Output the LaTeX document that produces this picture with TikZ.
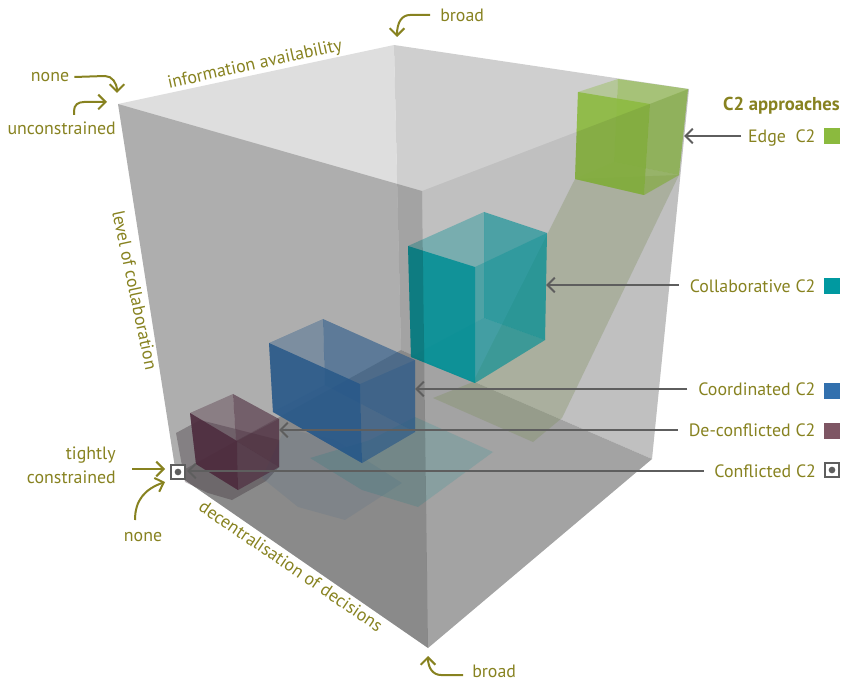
\documentclass[tikz,border=0pt]{standalone}
\usepackage{fontspec}
\setmainfont{PT Sans}
\usepackage{tikz}
\usetikzlibrary{arrows.meta, positioning}
\definecolor{olivetext}{RGB}{135,130,32}
\definecolor{pointergray}{RGB}{94,94,94}
\definecolor{edgegreen}{RGB}{139,186,62}
\definecolor{collabteal}{RGB}{0,153,160}
\definecolor{coordblue}{RGB}{50,112,174}
\definecolor{deconfmaroon}{RGB}{126,86,100}
\definecolor{cubemaroon}{RGB}{98,54,78}
\definecolor{shademaroon}{RGB}{70,55,65}
\definecolor{shadegreen}{RGB}{130,150,90}
\tikzstyle{caption} = [text=olivetext, font=\fontsize{13.4}{16}\selectfont, inner sep=0pt]
\tikzstyle{keylabel} = [caption, text height=1ex, text depth=0.2ex]
\tikzstyle{keybox} = [rectangle, minimum size=12pt, inner sep=0pt]
\tikzstyle{pointer} = [-{Straight Barb[length=5.5pt,width=11pt]}, draw=pointergray, line width=1.5pt]
\tikzstyle{guide} = [-{Straight Barb[length=5.5pt,width=11pt]}, draw=olivetext, line width=1.5pt]
\tikzstyle{framebox} = [rectangle, draw=pointergray, fill=white, line width=1.5pt, minimum size=10.2pt, inner sep=0pt]
\tikzstyle{framedot} = [circle, fill=pointergray, minimum size=5pt, inner sep=0pt]
\newcommand{\drawcube}[2]{
\fill [#2, fill opacity=0.37] (#1tl) -- (#1tb) -- (#1bb) -- (#1bl) -- cycle;
\fill [#2, fill opacity=0.60] (#1tb) -- (#1tr) -- (#1br) -- (#1bb) -- cycle;
\fill [#2, fill opacity=0.45] (#1bl) -- (#1bb) -- (#1br) -- (#1bf) -- cycle;
\fill [#2, fill opacity=0.85] (#1tl) -- (#1tf) -- (#1bf) -- (#1bl) -- cycle;
\fill [#2, fill opacity=0.35] (#1tf) -- (#1tr) -- (#1br) -- (#1bf) -- cycle;
}
\begin{document}
\begin{tikzpicture}[x=0.75pt, y=-0.75pt]
\useasboundingbox (0,0) rectangle (845,680);
\coordinate (rearleft) at (118,104);
\coordinate (rearback) at (394,45);
\coordinate (rearright) at (689,89);
\coordinate (frontup) at (422,191);
\coordinate (floorleft) at (176,474);
\coordinate (floorback) at (401,350);
\coordinate (floorright) at (652,459);
\coordinate (frontdown) at (428,648);
\fill [black!13!white] (rearleft) -- (rearback) -- (floorback) -- (floorleft) -- cycle;
\fill [black!19!white] (rearback) -- (rearright) -- (floorright) -- (floorback) -- cycle;
\fill [black!31!white] (floorleft) -- (floorback) -- (floorright) -- (frontdown) -- cycle;
\fill [shademaroon, fill opacity=0.35] (176,433) -- (200,420) -- (279,440) -- (279,467) -- (266,481) -- (232,500) -- (208,493) -- (185,482) -- cycle;
\fill [coordblue, fill opacity=0.11] (262,478) -- (298,507) -- (345,520) -- (402,483) -- (335,440) -- (285,428) -- cycle;
\fill [collabteal, fill opacity=0.16] (310,458) -- (362,490) -- (418,507) -- (493,452) -- (415,417) -- (370,440) -- cycle;
\fill [shadegreen, fill opacity=0.30] (575,179) -- (679,175) -- (562,418) -- (533,442) -- (433,398) -- (473,382) -- cycle;
\coordinate (mtl) at (190,413);
\coordinate (mtb) at (233,394);
\coordinate (mtr) at (279,419);
\coordinate (mtf) at (237,441);
\coordinate (mbl) at (196,464);
\coordinate (mbb) at (236,441);
\coordinate (mbr) at (279,467);
\coordinate (mbf) at (238,490);
\drawcube{m}{cubemaroon}
\coordinate (btl) at (269,343);
\coordinate (btb) at (323,319);
\coordinate (btr) at (415,360);
\coordinate (btf) at (360,384);
\coordinate (bbl) at (273,412);
\coordinate (bbb) at (325,385);
\coordinate (bbr) at (415,432);
\coordinate (bbf) at (362,463);
\drawcube{b}{coordblue}
\coordinate (ttl) at (408,246);
\coordinate (ttb) at (484,212);
\coordinate (ttr) at (547,233);
\coordinate (ttf) at (475,267);
\coordinate (tbl) at (411,357);
\coordinate (tbb) at (484,318);
\coordinate (tbr) at (545,340);
\coordinate (tbf) at (475,383);
\drawcube{t}{collabteal}
\coordinate (gtl) at (578,92);
\coordinate (gtb) at (618,79);
\coordinate (gtr) at (688,89);
\coordinate (gtf) at (650,104);
\coordinate (gbl) at (575,179);
\coordinate (gbb) at (614,162);
\coordinate (gbr) at (679,175);
\coordinate (gbf) at (644,195);
\drawcube{g}{edgegreen}
\fill [black, fill opacity=0.21] (rearleft) -- (frontup) -- (frontdown) -- (floorleft) -- cycle;
\fill [black, fill opacity=0.07] (frontup) -- (rearright) -- (floorright) -- (frontdown) -- cycle;
\node (approaches) [caption, anchor=east, font=\fontsize{14}{16}\selectfont\bfseries] at (840,106) {C2 approaches};
\node (edgekey) [keybox, fill=edgegreen] at (832,136) {};
\node (collabkey) [keybox, fill=collabteal] at (832,286) {};
\node (coordkey) [keybox, fill=coordblue] at (832,391) {};
\node (deconfkey) [keybox, fill=deconfmaroon] at (832,431) {};
\node (conflictkey) [framebox] at (832,470) {};
\node (conflictkeydot) [framedot] at (832,470) {};
\node (edgelabel) [keylabel, left=6pt of edgekey, yshift=-3pt] {Edge\ \ C2};
\node (collablabel) [keylabel, left=6pt of collabkey, yshift=-3pt] {Collaborative C2};
\node (coordlabel) [keylabel, left=6pt of coordkey, yshift=-1.5pt] {Coordinated C2};
\node (deconflabel) [keylabel, left=6pt of deconfkey, yshift=-2.25pt] {De-conflicted C2};
\node (conflictlabel) [keylabel, left=6pt of conflictkey, yshift=-3.75pt] {Conflicted C2};
\node (conflictmark) [framebox] at (178,472) {};
\node (conflictdot) [framedot] at (178,472) {};
\coordinate (edgetip) at (684,136);
\coordinate (collabtip) at (546,285);
\coordinate (coordtip) at (415,389);
\coordinate (deconftip) at (279,430);
\coordinate (conflicttip) at (187,471);
\draw [pointer, shorten <=5pt] (edgelabel.west |- edgetip) -- (edgetip);
\draw [pointer, shorten <=8pt] (collablabel.west |- collabtip) -- (collabtip);
\draw [pointer, shorten <=8pt] (coordlabel.west |- coordtip) -- (coordtip);
\draw [pointer, shorten <=8pt] (deconflabel.west |- deconftip) -- (deconftip);
\draw [pointer, shorten <=8pt] (conflictlabel.west |- conflicttip) -- (conflicttip);
\node (infolabel) [caption, rotate=12.4] at (255,65) {information availability};
\node (levellabel) [caption, rotate=-78] at (135,290) {level of collaboration};
\node (decentlabel) [caption, rotate=-34.3] at (291,566) {decentralisation of decisions};
\node (nonetop) [caption] at (50,77) {none};
\node (unconstrained) [caption, anchor=east] at (116,128) {unconstrained};
\node (tightly) [caption, anchor=east] at (116,455) {tightly};
\node (constrained) [caption, anchor=east] at (116,477) {constrained};
\node (nonelow) [caption] at (143,537) {none};
\node (broadtop) [caption, anchor=west] at (440,15) {broad};
\node (broadlow) [caption, anchor=west] at (472,671) {broad};
\coordinate (nonetoptip) at (117,93);
\coordinate (unconstip) at (107,102);
\coordinate (unconsfoot) at (74,115);
\coordinate (tighttail) at (132,469);
\coordinate (tighttip) at (165,469);
\coordinate (nonelowfoot) at (135,520);
\coordinate (nonelowtip) at (165,482);
\coordinate (broadtoptail) at (430,15);
\coordinate (broadtoptip) at (397,37);
\coordinate (broadlowtail) at (463,675);
\coordinate (broadlowtip) at (428,656);
\draw [guide] (nonetop.east) ++(5,0) -- (105,76) .. controls (112,76) and (117,83) .. (nonetoptip);
\draw [guide] (unconsfoot) -- (74,111) .. controls (74,105) and (78,102) .. (84,102) -- (unconstip);
\draw [guide] (tighttail) -- (tighttip);
\draw [guide] (nonelowfoot) .. controls (135,500) and (145,489) .. (nonelowtip);
\draw [guide] (broadtoptail) -- (410,15) .. controls (402,15) and (397,22) .. (broadtoptip);
\draw [guide] (broadlowtail) -- (441,675) .. controls (433,675) and (428,668) .. (broadlowtip);
\end{tikzpicture}
\end{document}
